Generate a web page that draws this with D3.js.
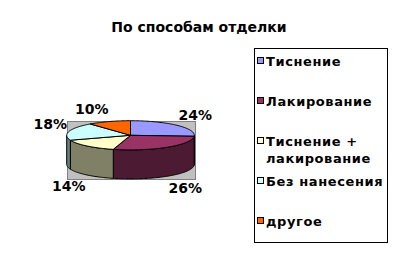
<!DOCTYPE html>
<meta charset="utf-8">
<style>
body { margin: 0; background: #fff; }
text { font-family: "DejaVu Sans", sans-serif; fill: #000; }
.title { font-size: 14px; font-weight: bold; }
.lbl { font-size: 14px; font-weight: bold; }
.leg { font-size: 13px; font-weight: bold; letter-spacing: 0.6px; }
</style>
<body>
<script src="https://cdn.jsdelivr.net/npm/d3@7"></script>
<script>

// data
var categories = ["Тиснение", "Лакирование", "Тиснение + лакирование", "Без нанесения", "другое"];
var legendLines = [["Тиснение"], ["Лакирование"], ["Тиснение +", "лакирование"], ["Без нанесения"], ["другое"]];
var values = [24, 26, 14, 18, 10];
var labels = ["24%", "26%", "14%", "18%", "10%"];
var colors = ["#9999FF", "#993366", "#FFFFCC", "#CCFFFF", "#FF6600"];
var sideColors = ["#4D4D80", "#4D1A33", "#808066", "#668080", "#803300"];

var W = 398, H = 259;
var cx = 130.5, cy = 135.3, rx = 63.8, ry = 14.6, depth = 29;

var svg = d3.select("body").append("svg")
  .attr("width", W).attr("height", H);

svg.append("text").attr("class", "title")
  .attr("x", 199).attr("y", 31.5)
  .attr("text-anchor", "middle")
  .text("По способам отделки");

// plot area behind the pie
svg.append("rect")
  .attr("x", Math.round(cx - rx) + 0.5).attr("y", Math.round(cy - ry) + 0.5)
  .attr("width", Math.round(2 * rx)).attr("height", Math.round(2 * ry + depth))
  .attr("fill", "#C0C0C0").attr("stroke", "#808080");

var x = d3.scaleLinear().domain([-1, 1]).range([cx - rx, cx + rx]);
var y = d3.scaleLinear().domain([-1, 1]).range([cy - ry, cy + ry]);

function pt(a, dz) { return [x(Math.sin(a)), y(-Math.cos(a)) + dz]; }
function arcPts(a0, a1, dz) {
  var n = Math.max(2, Math.ceil((a1 - a0) / 0.02));
  return d3.range(n + 1).map(function (i) { return pt(a0 + (a1 - a0) * i / n, dz); });
}

var pie = d3.pie().sort(null).value(function (d) { return d; });
var arcs = pie(values);
var line = d3.line();

// side walls (front half only)
arcs.forEach(function (d, i) {
  var a0 = Math.max(d.startAngle, Math.PI / 2), a1 = Math.min(d.endAngle, 3 * Math.PI / 2);
  if (a1 <= a0) return;
  var top = arcPts(a0, a1, 0), bot = arcPts(a0, a1, depth).reverse();
  svg.append("path")
    .attr("d", line(top.concat(bot)) + "Z")
    .attr("fill", sideColors[i]).attr("stroke", "#000").attr("stroke-width", 1)
    .attr("stroke-linejoin", "round");
});

// top faces
arcs.forEach(function (d, i) {
  var p = [[cx, cy]].concat(arcPts(d.startAngle, d.endAngle, 0));
  svg.append("path")
    .attr("d", line(p) + "Z")
    .attr("fill", colors[i]).attr("stroke", "#000").attr("stroke-width", 1)
    .attr("stroke-linejoin", "round");
});

// labels
var lx = d3.scaleLinear().domain([-1, 1]).range([cx - rx - 2, cx + rx + 2]);
var ly = d3.scaleLinear().domain([-1, 1]).range([cy - ry - 8, cy + ry + 8]);
arcs.forEach(function (d, i) {
  var m = (d.startAngle + d.endAngle) / 2;
  var s = Math.sin(m), c = Math.cos(m);
  var px = lx(s), py = ly(-c) + (c < 0 ? depth : 0);
  svg.append("text").attr("class", "lbl")
    .attr("x", px).attr("y", c < 0 ? py + 10 : py)
    .attr("text-anchor", s >= 0 ? "start" : "end")
    .text(labels[i]);
});

// legend
svg.append("rect")
  .attr("x", 254.5).attr("y", 48.5).attr("width", 133).attr("height", 194)
  .attr("fill", "#fff").attr("stroke", "#000");

var ly2 = d3.scalePoint().domain(categories).range([61, 221]);
categories.forEach(function (c, i) {
  var yy = ly2(c);
  svg.append("rect")
    .attr("x", 257.5).attr("y", yy - 3.5).attr("width", 6).attr("height", 6)
    .attr("fill", colors[i]).attr("stroke", "#000");
  legendLines[i].forEach(function (t, j) {
    svg.append("text").attr("class", "leg")
      .attr("x", 266).attr("y", yy + 4.5 + j * 17)
      .text(t);
  });
});

</script>
</body>
